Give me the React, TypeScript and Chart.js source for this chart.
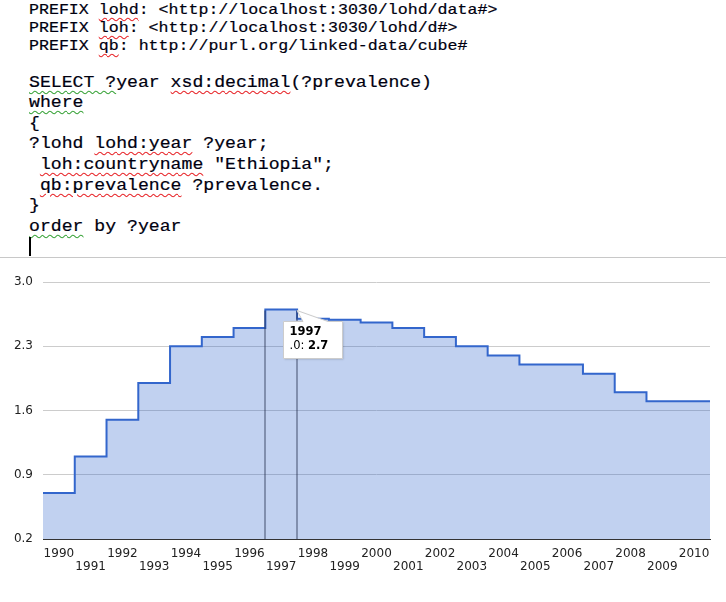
import React, { useEffect, useRef } from "react";
import { Chart, registerables } from "chart.js";

Chart.register(...registerables);

// ---- Data ----
const years = [1990, 1991, 1992, 1993, 1994, 1995, 1996, 1997, 1998, 1999, 2000, 2001, 2002, 2003, 2004, 2005, 2006, 2007, 2008, 2009, 2010];
const prevalence = [0.7, 1.1, 1.5, 1.9, 2.3, 2.4, 2.5, 2.7, 2.6, 2.59, 2.56, 2.5, 2.4, 2.3, 2.2, 2.1, 2.1, 2.0, 1.8, 1.7, 1.7];
const yTicks = [0.2, 0.9, 1.6, 2.3, 3.0];
const seriesName = ".0";
const focusYear = 1997;

// query text: [text, spell-check mark]
type Seg = [string, "red" | "green" | null];
const prefixLines: Seg[][] = [
  [["PREFIX ", null], ["lohd", "red"], [": <http://localhost:3030/lohd/data#>", null]],
  [["PREFIX ", null], ["loh", "red"], [": <http://localhost:3030/lohd/d#>", null]],
  [["PREFIX ", null], ["qb", "red"], [": http://purl.org/linked-data/cube#", null]],
];
const queryLines: Seg[][] = [
  [["SELECT ?", "green"], ["year ", null], ["xsd:decimal", "red"], ["(?prevalence)", null]],
  [["where", "green"]],
  [["{", null]],
  [["?lohd ", null], ["lohd:year", "red"], [" ?year;", null]],
  [[" ", null], ["loh:countryname", "red"], [' "Ethiopia";', null]],
  [[" ", null], ["qb:prevalence", "red"], [" ?prevalence.", null]],
  [["}", null]],
  [["order", "green"], [" by ?year", null]],
];

const markColor = { red: "#e8262a", green: "#3aa33a" };

function Line({ segs }: { segs: Seg[] }) {
  return (
    <div>
      {segs.map(([t, m], i) =>
        m ? (
          <span
            key={i}
            style={{
              textDecorationLine: "underline",
              textDecorationStyle: "wavy",
              textDecorationColor: markColor[m],
              textDecorationThickness: "1px",
              textUnderlineOffset: "3px",
            }}
          >
            {t}
          </span>
        ) : (
          <span key={i}>{t}</span>
        )
      )}
    </div>
  );
}

const focusPlugin = {
  id: "focusMarker",
  afterDatasetsDraw(chart: any) {
    const { ctx, chartArea, scales } = chart;
    const x = scales.x;
    const y = scales.y;
    const idx = years.indexOf(focusYear);
    const v = prevalence[idx];
    const xl = Math.round(x.getPixelForValue(focusYear - 0.5));
    const xr = Math.round(x.getPixelForValue(focusYear + 0.5));
    const yt = y.getPixelForValue(v);
    ctx.save();
    ctx.strokeStyle = "rgba(40,50,80,0.42)";
    ctx.lineWidth = 2;
    ctx.beginPath();
    ctx.moveTo(xl, yt + 1);
    ctx.lineTo(xl, chartArea.bottom);
    ctx.moveTo(xr, yt + 1);
    ctx.lineTo(xr, chartArea.bottom);
    ctx.stroke();

    // tooltip box with callout
    const bx = xr - 13.5;
    const by = Math.round(yt) + 11.5;
    const bw = 59;
    const bh = 37;
    ctx.lineWidth = 1;
    ctx.beginPath();
    ctx.moveTo(bx, by);
    ctx.lineTo(xr + 6, by);
    ctx.lineTo(xr, yt + 1);
    ctx.lineTo(xr + 31, by);
    ctx.lineTo(bx + bw, by);
    ctx.lineTo(bx + bw, by + bh);
    ctx.lineTo(bx, by + bh);
    ctx.closePath();
    ctx.shadowColor = "rgba(0,0,0,0.18)";
    ctx.shadowOffsetX = 1;
    ctx.shadowOffsetY = 1;
    ctx.shadowBlur = 2;
    ctx.fillStyle = "#ffffff";
    ctx.fill();
    ctx.shadowColor = "transparent";
    ctx.strokeStyle = "#cccccc";
    ctx.stroke();

    ctx.fillStyle = "#000000";
    ctx.textBaseline = "middle";
    ctx.textAlign = "left";
    ctx.font = 'bold 11.5px "DejaVu Sans"';
    ctx.fillText(String(focusYear), bx + 6, by + 10.5);
    const pre = seriesName + ": ";
    ctx.font = '11.5px "DejaVu Sans"';
    ctx.fillText(pre, bx + 6, by + 25);
    const w = ctx.measureText(pre).width;
    ctx.font = 'bold 11.5px "DejaVu Sans"';
    ctx.fillText(String(v), bx + 6 + w, by + 25);
    ctx.restore();
  },
};

function StepChart() {
  const ref = useRef<HTMLCanvasElement | null>(null);
  useEffect(() => {
    if (!ref.current) return;
    const points = years.map((yr, i) => ({ x: yr - 0.5, y: prevalence[i] }));
    points.push({ x: years[years.length - 1] + 0.5, y: prevalence[prevalence.length - 1] });
    const font = { family: '"DejaVu Sans", sans-serif', size: 12 };
    const chart = new Chart(ref.current, {
      type: "line",
      data: {
        datasets: [
          {
            label: seriesName,
            data: points,
            stepped: true,
            borderColor: "#3366cc",
            borderWidth: 2,
            backgroundColor: "rgba(51,102,204,0.3)",
            fill: "start",
            pointRadius: 0,
            tension: 0,
          },
        ],
      },
      options: {
        animation: false,
        responsive: true,
        maintainAspectRatio: false,
        events: [],
        layout: { padding: { top: 24, right: 16, left: 0, bottom: 0 } },
        plugins: { legend: { display: false }, tooltip: { enabled: false } },
        scales: {
          x: {
            type: "linear",
            min: years[0] - 0.5,
            max: years[years.length - 1] + 0.5,
            afterBuildTicks: (s: any) => {
              s.ticks = years.map((v) => ({ value: v }));
            },
            afterFit: (s: any) => {
              s.height = 63;
            },
            ticks: {
              autoSkip: false,
              maxRotation: 0,
              minRotation: 0,
              padding: 8,
              color: "#222",
              font: { ...font, lineHeight: "13px" },
              callback: (v: any, i: number) => (i % 2 === 0 ? String(v) : ["", String(v)]),
            },
            grid: { display: true, drawOnChartArea: false, drawTicks: false },
            border: { display: true, color: "#333333", width: 1 },
          },
          y: {
            min: yTicks[0],
            max: yTicks[yTicks.length - 1],
            afterBuildTicks: (s: any) => {
              s.ticks = yTicks.map((v) => ({ value: v }));
            },
            afterFit: (s: any) => {
              s.width = 43;
            },
            ticks: {
              padding: 10,
              color: "#222",
              font,
              callback: (v: any) => Number(v).toFixed(1),
            },
            grid: { color: "#cccccc", lineWidth: 1, drawTicks: false },
            border: { display: false },
          },
        },
      },
      plugins: [focusPlugin],
    } as any);
    return () => chart.destroy();
  }, []);
  return (
    <div style={{ position: "absolute", left: 0, top: 258, width: 726, height: 344 }}>
      <canvas ref={ref} />
    </div>
  );
}

export default function App() {
  const mono: React.CSSProperties = {
    position: "absolute",
    left: 29,
    margin: 0,
    fontFamily: '"Liberation Mono", "Courier New", monospace',
    whiteSpace: "pre",
    transformOrigin: "0 0",
    color: "#000010",
    WebkitTextStroke: "0.2px #000010",
  };
  return (
    <div
      style={{
        position: "fixed",
        left: 0,
        top: 0,
        width: 726,
        height: 602,
        background: "#ffffff",
        overflow: "hidden",
      }}
    >
      <div style={{ ...mono, top: 1.8, fontSize: 15, lineHeight: "18.3px", transform: "scaleX(1.107)" }}>
        {prefixLines.map((l, i) => (
          <Line key={i} segs={l} />
        ))}
      </div>
      <div style={{ ...mono, top: 72.7, fontSize: 16.5, lineHeight: "20.6px", transform: "scaleX(1.1)" }}>
        {queryLines.map((l, i) => (
          <Line key={i} segs={l} />
        ))}
      </div>
      <div style={{ position: "absolute", left: 29, top: 237, width: 2, height: 19, background: "#000" }} />
      <div style={{ position: "absolute", left: 0, top: 257, width: 726, height: 1, background: "#c8c8c8" }} />
      <StepChart />
    </div>
  );
}
